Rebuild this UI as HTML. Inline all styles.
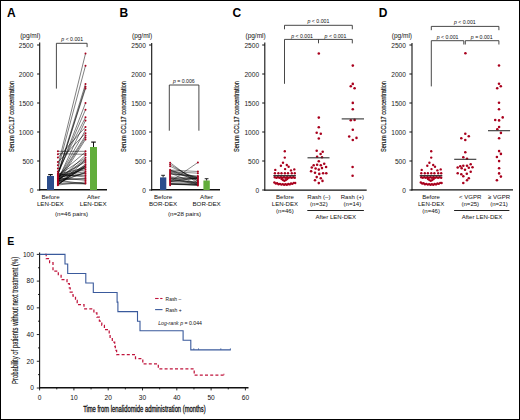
<!DOCTYPE html>
<html><head><meta charset="utf-8"><style>
html,body{margin:0;padding:0;background:#fff;}
#fig{position:relative;width:520px;height:420px;overflow:hidden;background:#fff;}
svg{position:absolute;left:0;top:0;}
text{font-family:"Liberation Sans", sans-serif;}
</style></head><body>
<div id="fig">
<svg width="520" height="420" viewBox="0 0 520 420" font-family='"Liberation Sans", sans-serif'>
<rect x="0.5" y="0.5" width="519" height="419" fill="#fff" stroke="#000" stroke-width="1"/>
<text x="7.00" y="16.90" font-size="12" text-anchor="start" font-weight="bold" fill="#000">A</text>
<line x1="39.70" y1="42.40" x2="39.70" y2="190.50" stroke="#111" stroke-width="1.1"/>
<line x1="37.10" y1="190.00" x2="39.70" y2="190.00" stroke="#111" stroke-width="1"/>
<text x="33.40" y="192.50" font-size="6.6" text-anchor="end" fill="#222">0</text>
<line x1="37.10" y1="161.00" x2="39.70" y2="161.00" stroke="#111" stroke-width="1"/>
<text x="33.40" y="163.50" font-size="6.6" text-anchor="end" fill="#222">500</text>
<line x1="37.10" y1="132.00" x2="39.70" y2="132.00" stroke="#111" stroke-width="1"/>
<text x="33.40" y="134.50" font-size="6.6" text-anchor="end" fill="#222">1000</text>
<line x1="37.10" y1="103.00" x2="39.70" y2="103.00" stroke="#111" stroke-width="1"/>
<text x="33.40" y="105.50" font-size="6.6" text-anchor="end" fill="#222">1500</text>
<line x1="37.10" y1="74.00" x2="39.70" y2="74.00" stroke="#111" stroke-width="1"/>
<text x="33.40" y="76.50" font-size="6.6" text-anchor="end" fill="#222">2000</text>
<line x1="37.10" y1="45.00" x2="39.70" y2="45.00" stroke="#111" stroke-width="1"/>
<text x="33.40" y="47.50" font-size="6.6" text-anchor="end" fill="#222">2500</text>
<text x="30.30" y="37.90" font-size="6.5" text-anchor="middle" fill="#111">(pg/ml)</text>
<text x="13.60" y="116.50" font-size="7.7" text-anchor="middle" textLength="71" lengthAdjust="spacingAndGlyphs" transform="rotate(-90 13.60 116.50)" fill="#111" stroke="#111" stroke-width="0.18">Serum CCL17 concentration</text>
<line x1="39.20" y1="189.80" x2="107.00" y2="189.80" stroke="#111" stroke-width="1.4"/>
<polyline points="56.4,88.6 56.4,43.3 87.1,43.3 87.1,47.1" fill="none" stroke="#333" stroke-width="0.9"/>
<text x="72.20" y="41.30" font-size="5.2" text-anchor="middle" fill="#111"><tspan font-style="italic">p</tspan> &lt; 0.001</text>
<rect x="47" y="176" width="7" height="14" fill="#2c4d8c"/>
<line x1="50.50" y1="174.50" x2="50.50" y2="176.00" stroke="#111" stroke-width="0.9"/>
<line x1="48.20" y1="174.60" x2="52.80" y2="174.60" stroke="#111" stroke-width="1.2"/>
<rect x="90" y="147" width="7" height="43" fill="#62ad3c"/>
<line x1="93.50" y1="142.00" x2="93.50" y2="147.00" stroke="#111" stroke-width="1.0"/>
<line x1="91.20" y1="142.10" x2="95.80" y2="142.10" stroke="#111" stroke-width="1.2"/>
<g>
<line x1="58.00" y1="151.30" x2="85.50" y2="151.30" stroke="#000" stroke-width="0.5"/>
<line x1="58.00" y1="153.70" x2="85.50" y2="154.30" stroke="#000" stroke-width="0.5"/>
<line x1="58.00" y1="165.20" x2="85.50" y2="53.60" stroke="#000" stroke-width="0.5"/>
<line x1="58.00" y1="168.60" x2="85.50" y2="65.70" stroke="#000" stroke-width="0.5"/>
<line x1="58.00" y1="173.30" x2="85.50" y2="83.90" stroke="#000" stroke-width="0.5"/>
<line x1="58.00" y1="174.42" x2="85.50" y2="86.80" stroke="#000" stroke-width="0.5"/>
<line x1="58.00" y1="173.80" x2="85.50" y2="88.60" stroke="#000" stroke-width="0.5"/>
<line x1="58.00" y1="174.38" x2="85.50" y2="103.10" stroke="#000" stroke-width="0.5"/>
<line x1="58.00" y1="173.48" x2="85.50" y2="109.70" stroke="#000" stroke-width="0.5"/>
<line x1="58.00" y1="171.50" x2="85.50" y2="117.30" stroke="#000" stroke-width="0.5"/>
<line x1="58.00" y1="179.74" x2="85.50" y2="120.40" stroke="#000" stroke-width="0.5"/>
<line x1="58.00" y1="157.60" x2="85.50" y2="127.00" stroke="#000" stroke-width="0.5"/>
<line x1="58.00" y1="178.84" x2="85.50" y2="130.10" stroke="#000" stroke-width="0.5"/>
<line x1="58.00" y1="162.00" x2="85.50" y2="133.20" stroke="#000" stroke-width="0.5"/>
<line x1="58.00" y1="179.39" x2="85.50" y2="135.60" stroke="#000" stroke-width="0.5"/>
<line x1="58.00" y1="180.63" x2="85.50" y2="137.50" stroke="#000" stroke-width="0.5"/>
<line x1="58.00" y1="182.74" x2="85.50" y2="139.40" stroke="#000" stroke-width="0.5"/>
<line x1="58.00" y1="175.14" x2="85.50" y2="151.99" stroke="#000" stroke-width="0.5"/>
<line x1="58.00" y1="180.66" x2="85.50" y2="155.20" stroke="#000" stroke-width="0.5"/>
<line x1="58.00" y1="175.17" x2="85.50" y2="157.80" stroke="#000" stroke-width="0.5"/>
<line x1="58.00" y1="179.59" x2="85.50" y2="158.98" stroke="#000" stroke-width="0.5"/>
<line x1="58.00" y1="185.26" x2="85.50" y2="160.00" stroke="#000" stroke-width="0.5"/>
<line x1="58.00" y1="180.80" x2="85.50" y2="160.18" stroke="#000" stroke-width="0.5"/>
<line x1="58.00" y1="176.98" x2="85.50" y2="162.00" stroke="#000" stroke-width="0.5"/>
<line x1="58.00" y1="184.78" x2="85.50" y2="164.20" stroke="#000" stroke-width="0.5"/>
<line x1="58.00" y1="179.34" x2="85.50" y2="165.54" stroke="#000" stroke-width="0.5"/>
<line x1="58.00" y1="184.30" x2="85.50" y2="166.00" stroke="#000" stroke-width="0.5"/>
<line x1="58.00" y1="181.55" x2="85.50" y2="166.09" stroke="#000" stroke-width="0.5"/>
<line x1="58.00" y1="184.34" x2="85.50" y2="166.31" stroke="#000" stroke-width="0.5"/>
<line x1="58.00" y1="182.50" x2="85.50" y2="167.49" stroke="#000" stroke-width="0.5"/>
<line x1="58.00" y1="174.22" x2="85.50" y2="167.80" stroke="#000" stroke-width="0.5"/>
<line x1="58.00" y1="178.68" x2="85.50" y2="168.13" stroke="#000" stroke-width="0.5"/>
<line x1="58.00" y1="175.50" x2="85.50" y2="169.80" stroke="#000" stroke-width="0.5"/>
<line x1="58.00" y1="175.56" x2="85.50" y2="171.80" stroke="#000" stroke-width="0.5"/>
<line x1="58.00" y1="182.93" x2="85.50" y2="172.13" stroke="#000" stroke-width="0.5"/>
<line x1="58.00" y1="181.08" x2="85.50" y2="172.86" stroke="#000" stroke-width="0.5"/>
<line x1="58.00" y1="176.91" x2="85.50" y2="173.50" stroke="#000" stroke-width="0.5"/>
<line x1="58.00" y1="176.06" x2="85.50" y2="175.30" stroke="#000" stroke-width="0.5"/>
<line x1="58.00" y1="174.01" x2="85.50" y2="177.00" stroke="#000" stroke-width="0.5"/>
<line x1="58.00" y1="179.96" x2="85.50" y2="178.70" stroke="#000" stroke-width="0.5"/>
<line x1="58.00" y1="178.82" x2="85.50" y2="178.80" stroke="#000" stroke-width="0.5"/>
<line x1="58.00" y1="177.90" x2="85.50" y2="180.30" stroke="#000" stroke-width="0.5"/>
<line x1="58.00" y1="184.99" x2="85.50" y2="182.00" stroke="#000" stroke-width="0.5"/>
<line x1="58.00" y1="181.58" x2="85.50" y2="183.60" stroke="#000" stroke-width="0.5"/>
<line x1="58.00" y1="180.29" x2="85.50" y2="183.86" stroke="#000" stroke-width="0.5"/>
<line x1="58.00" y1="183.42" x2="85.50" y2="183.92" stroke="#000" stroke-width="0.5"/>
</g>
<circle cx="57.90" cy="151.30" r="1.0" fill="#a9001d"/>
<circle cx="57.90" cy="154.30" r="1.0" fill="#a9001d"/>
<circle cx="57.90" cy="157.60" r="1.0" fill="#a9001d"/>
<circle cx="57.90" cy="162.00" r="1.0" fill="#a9001d"/>
<circle cx="57.90" cy="165.20" r="1.0" fill="#a9001d"/>
<circle cx="57.90" cy="168.60" r="1.0" fill="#a9001d"/>
<circle cx="57.90" cy="171.50" r="1.0" fill="#a9001d"/>
<circle cx="57.90" cy="173.30" r="1.0" fill="#a9001d"/>
<circle cx="57.90" cy="174.22" r="1.0" fill="#a9001d"/>
<circle cx="57.90" cy="175.14" r="1.0" fill="#a9001d"/>
<circle cx="57.90" cy="176.06" r="1.0" fill="#a9001d"/>
<circle cx="57.90" cy="176.98" r="1.0" fill="#a9001d"/>
<circle cx="57.90" cy="177.90" r="1.0" fill="#a9001d"/>
<circle cx="57.90" cy="178.82" r="1.0" fill="#a9001d"/>
<circle cx="57.90" cy="179.74" r="1.0" fill="#a9001d"/>
<circle cx="57.90" cy="180.66" r="1.0" fill="#a9001d"/>
<circle cx="57.90" cy="181.58" r="1.0" fill="#a9001d"/>
<circle cx="57.90" cy="182.50" r="1.0" fill="#a9001d"/>
<circle cx="57.90" cy="183.42" r="1.0" fill="#a9001d"/>
<circle cx="57.90" cy="184.34" r="1.0" fill="#a9001d"/>
<circle cx="57.90" cy="185.26" r="1.0" fill="#a9001d"/>
<circle cx="85.50" cy="53.60" r="1.0" fill="#a9001d"/>
<circle cx="85.50" cy="65.70" r="1.0" fill="#a9001d"/>
<circle cx="85.50" cy="83.90" r="1.0" fill="#a9001d"/>
<circle cx="85.50" cy="86.80" r="1.0" fill="#a9001d"/>
<circle cx="85.50" cy="88.60" r="1.0" fill="#a9001d"/>
<circle cx="85.50" cy="103.10" r="1.0" fill="#a9001d"/>
<circle cx="85.50" cy="109.70" r="1.0" fill="#a9001d"/>
<circle cx="85.50" cy="117.30" r="1.0" fill="#a9001d"/>
<circle cx="85.50" cy="120.40" r="1.0" fill="#a9001d"/>
<circle cx="85.50" cy="127.00" r="1.0" fill="#a9001d"/>
<circle cx="85.50" cy="130.10" r="1.0" fill="#a9001d"/>
<circle cx="85.50" cy="133.20" r="1.0" fill="#a9001d"/>
<circle cx="85.50" cy="135.60" r="1.0" fill="#a9001d"/>
<circle cx="85.50" cy="137.50" r="1.0" fill="#a9001d"/>
<circle cx="85.50" cy="139.40" r="1.0" fill="#a9001d"/>
<circle cx="85.50" cy="151.30" r="1.0" fill="#a9001d"/>
<circle cx="85.50" cy="153.70" r="1.0" fill="#a9001d"/>
<circle cx="85.50" cy="155.20" r="1.0" fill="#a9001d"/>
<circle cx="85.50" cy="157.80" r="1.0" fill="#a9001d"/>
<circle cx="85.50" cy="160.00" r="1.0" fill="#a9001d"/>
<circle cx="85.50" cy="162.00" r="1.0" fill="#a9001d"/>
<circle cx="85.50" cy="164.20" r="1.0" fill="#a9001d"/>
<circle cx="85.50" cy="166.00" r="1.0" fill="#a9001d"/>
<circle cx="85.50" cy="167.80" r="1.0" fill="#a9001d"/>
<circle cx="85.50" cy="169.80" r="1.0" fill="#a9001d"/>
<circle cx="85.50" cy="171.80" r="1.0" fill="#a9001d"/>
<circle cx="85.50" cy="173.50" r="1.0" fill="#a9001d"/>
<circle cx="85.50" cy="175.30" r="1.0" fill="#a9001d"/>
<circle cx="85.50" cy="177.00" r="1.0" fill="#a9001d"/>
<circle cx="85.50" cy="178.70" r="1.0" fill="#a9001d"/>
<circle cx="85.50" cy="180.30" r="1.0" fill="#a9001d"/>
<circle cx="85.50" cy="182.00" r="1.0" fill="#a9001d"/>
<circle cx="85.50" cy="183.60" r="1.0" fill="#a9001d"/>
<text x="50.50" y="198.90" font-size="6.2" text-anchor="middle" fill="#111">Before</text>
<text x="50.30" y="205.90" font-size="6.2" text-anchor="middle" fill="#111">LEN-DEX</text>
<text x="93.50" y="198.90" font-size="6.2" text-anchor="middle" fill="#111">After</text>
<text x="93.20" y="205.90" font-size="6.2" text-anchor="middle" fill="#111">LEN-DEX</text>
<text x="71.50" y="215.60" font-size="6.2" text-anchor="middle" fill="#111">(n=46 pairs)</text>
<text x="119.40" y="16.90" font-size="12" text-anchor="start" font-weight="bold" fill="#000">B</text>
<line x1="151.70" y1="43.00" x2="151.70" y2="190.50" stroke="#111" stroke-width="1.1"/>
<line x1="149.10" y1="190.00" x2="151.70" y2="190.00" stroke="#111" stroke-width="1"/>
<text x="145.90" y="192.50" font-size="6.6" text-anchor="end" fill="#222">0</text>
<line x1="149.10" y1="161.00" x2="151.70" y2="161.00" stroke="#111" stroke-width="1"/>
<text x="145.90" y="163.50" font-size="6.6" text-anchor="end" fill="#222">500</text>
<line x1="149.10" y1="132.00" x2="151.70" y2="132.00" stroke="#111" stroke-width="1"/>
<text x="145.90" y="134.50" font-size="6.6" text-anchor="end" fill="#222">1000</text>
<line x1="149.10" y1="103.00" x2="151.70" y2="103.00" stroke="#111" stroke-width="1"/>
<text x="145.90" y="105.50" font-size="6.6" text-anchor="end" fill="#222">1500</text>
<line x1="149.10" y1="74.00" x2="151.70" y2="74.00" stroke="#111" stroke-width="1"/>
<text x="145.90" y="76.50" font-size="6.6" text-anchor="end" fill="#222">2000</text>
<line x1="149.10" y1="45.00" x2="151.70" y2="45.00" stroke="#111" stroke-width="1"/>
<text x="145.90" y="47.50" font-size="6.6" text-anchor="end" fill="#222">2500</text>
<text x="142.10" y="37.90" font-size="6.5" text-anchor="middle" fill="#111">(pg/ml)</text>
<text x="125.60" y="116.50" font-size="7.7" text-anchor="middle" textLength="71" lengthAdjust="spacingAndGlyphs" transform="rotate(-90 125.60 116.50)" fill="#111" stroke="#111" stroke-width="0.18">Serum CCL17 concentration</text>
<line x1="151.20" y1="189.80" x2="220.00" y2="189.80" stroke="#111" stroke-width="1.4"/>
<polyline points="169.3,130.7 169.3,85 198.9,85 198.9,130.7" fill="none" stroke="#333" stroke-width="0.9"/>
<text x="183.80" y="83.20" font-size="5.2" text-anchor="middle" fill="#111"><tspan font-style="italic">p</tspan> = 0.006</text>
<rect x="160" y="177.4" width="6.3" height="12.6" fill="#2c4d8c"/>
<line x1="163.10" y1="175.30" x2="163.10" y2="177.40" stroke="#111" stroke-width="0.9"/>
<line x1="161.20" y1="175.30" x2="165.00" y2="175.30" stroke="#111" stroke-width="0.9"/>
<rect x="203.4" y="180.5" width="6.4" height="9.5" fill="#62ad3c"/>
<line x1="206.60" y1="178.70" x2="206.60" y2="180.50" stroke="#111" stroke-width="0.9"/>
<line x1="204.70" y1="178.70" x2="208.50" y2="178.70" stroke="#111" stroke-width="0.9"/>
<line x1="170.20" y1="162.70" x2="198.00" y2="183.50" stroke="#000" stroke-width="0.45"/>
<line x1="170.20" y1="164.50" x2="198.00" y2="181.00" stroke="#000" stroke-width="0.45"/>
<line x1="170.20" y1="166.30" x2="198.00" y2="179.30" stroke="#000" stroke-width="0.45"/>
<line x1="170.20" y1="181.60" x2="198.00" y2="162.40" stroke="#000" stroke-width="0.45"/>
<line x1="170.20" y1="170.00" x2="198.00" y2="171.50" stroke="#000" stroke-width="0.45"/>
<line x1="170.20" y1="171.60" x2="198.00" y2="173.20" stroke="#000" stroke-width="0.45"/>
<line x1="170.20" y1="174.08" x2="198.00" y2="175.92" stroke="#000" stroke-width="0.45"/>
<line x1="170.20" y1="173.57" x2="198.00" y2="177.12" stroke="#000" stroke-width="0.45"/>
<line x1="170.20" y1="170.24" x2="198.00" y2="177.23" stroke="#000" stroke-width="0.45"/>
<line x1="170.20" y1="178.58" x2="198.00" y2="177.49" stroke="#000" stroke-width="0.45"/>
<line x1="170.20" y1="171.53" x2="198.00" y2="177.87" stroke="#000" stroke-width="0.45"/>
<line x1="170.20" y1="181.12" x2="198.00" y2="177.91" stroke="#000" stroke-width="0.45"/>
<line x1="170.20" y1="179.33" x2="198.00" y2="177.97" stroke="#000" stroke-width="0.45"/>
<line x1="170.20" y1="181.15" x2="198.00" y2="178.68" stroke="#000" stroke-width="0.45"/>
<line x1="170.20" y1="176.92" x2="198.00" y2="178.77" stroke="#000" stroke-width="0.45"/>
<line x1="170.20" y1="172.24" x2="198.00" y2="179.37" stroke="#000" stroke-width="0.45"/>
<line x1="170.20" y1="170.00" x2="198.00" y2="181.08" stroke="#000" stroke-width="0.45"/>
<line x1="170.20" y1="181.97" x2="198.00" y2="181.83" stroke="#000" stroke-width="0.45"/>
<line x1="170.20" y1="181.52" x2="198.00" y2="182.41" stroke="#000" stroke-width="0.45"/>
<line x1="170.20" y1="179.73" x2="198.00" y2="182.53" stroke="#000" stroke-width="0.45"/>
<line x1="170.20" y1="183.58" x2="198.00" y2="183.55" stroke="#000" stroke-width="0.45"/>
<line x1="170.20" y1="173.12" x2="198.00" y2="184.27" stroke="#000" stroke-width="0.45"/>
<line x1="170.20" y1="176.98" x2="198.00" y2="184.28" stroke="#000" stroke-width="0.45"/>
<line x1="170.20" y1="184.22" x2="198.00" y2="184.48" stroke="#000" stroke-width="0.45"/>
<line x1="170.20" y1="183.91" x2="198.00" y2="184.93" stroke="#000" stroke-width="0.45"/>
<line x1="170.20" y1="178.12" x2="198.00" y2="185.13" stroke="#000" stroke-width="0.45"/>
<line x1="170.20" y1="183.82" x2="198.00" y2="185.18" stroke="#000" stroke-width="0.45"/>
<line x1="170.20" y1="184.23" x2="198.00" y2="185.33" stroke="#000" stroke-width="0.45"/>
<circle cx="170.10" cy="162.70" r="1.0" fill="#a9001d"/>
<circle cx="170.10" cy="164.50" r="1.0" fill="#a9001d"/>
<circle cx="170.10" cy="166.30" r="1.0" fill="#a9001d"/>
<circle cx="170.10" cy="169.80" r="1.0" fill="#a9001d"/>
<circle cx="170.10" cy="170.76" r="1.0" fill="#a9001d"/>
<circle cx="170.10" cy="171.72" r="1.0" fill="#a9001d"/>
<circle cx="170.10" cy="172.68" r="1.0" fill="#a9001d"/>
<circle cx="170.10" cy="173.64" r="1.0" fill="#a9001d"/>
<circle cx="170.10" cy="174.60" r="1.0" fill="#a9001d"/>
<circle cx="170.10" cy="175.56" r="1.0" fill="#a9001d"/>
<circle cx="170.10" cy="176.52" r="1.0" fill="#a9001d"/>
<circle cx="170.10" cy="177.48" r="1.0" fill="#a9001d"/>
<circle cx="170.10" cy="178.44" r="1.0" fill="#a9001d"/>
<circle cx="170.10" cy="179.40" r="1.0" fill="#a9001d"/>
<circle cx="170.10" cy="180.36" r="1.0" fill="#a9001d"/>
<circle cx="170.10" cy="181.32" r="1.0" fill="#a9001d"/>
<circle cx="170.10" cy="182.28" r="1.0" fill="#a9001d"/>
<circle cx="170.10" cy="183.24" r="1.0" fill="#a9001d"/>
<circle cx="170.10" cy="184.20" r="1.0" fill="#a9001d"/>
<circle cx="170.10" cy="185.16" r="1.0" fill="#a9001d"/>
<circle cx="197.90" cy="162.40" r="1.0" fill="#a9001d"/>
<circle cx="197.90" cy="171.50" r="1.0" fill="#a9001d"/>
<circle cx="197.90" cy="173.20" r="1.0" fill="#a9001d"/>
<circle cx="197.90" cy="175.90" r="1.0" fill="#a9001d"/>
<circle cx="197.90" cy="176.86" r="1.0" fill="#a9001d"/>
<circle cx="197.90" cy="177.82" r="1.0" fill="#a9001d"/>
<circle cx="197.90" cy="178.78" r="1.0" fill="#a9001d"/>
<circle cx="197.90" cy="179.74" r="1.0" fill="#a9001d"/>
<circle cx="197.90" cy="180.70" r="1.0" fill="#a9001d"/>
<circle cx="197.90" cy="181.66" r="1.0" fill="#a9001d"/>
<circle cx="197.90" cy="182.62" r="1.0" fill="#a9001d"/>
<circle cx="197.90" cy="183.58" r="1.0" fill="#a9001d"/>
<circle cx="197.90" cy="184.54" r="1.0" fill="#a9001d"/>
<circle cx="197.90" cy="185.50" r="1.0" fill="#a9001d"/>
<text x="163.10" y="198.90" font-size="6.2" text-anchor="middle" fill="#111">Before</text>
<text x="163.10" y="205.90" font-size="6.2" text-anchor="middle" fill="#111">BOR-DEX</text>
<text x="206.60" y="198.90" font-size="6.2" text-anchor="middle" fill="#111">After</text>
<text x="206.60" y="205.90" font-size="6.2" text-anchor="middle" fill="#111">BOR-DEX</text>
<text x="184.50" y="215.60" font-size="6.2" text-anchor="middle" fill="#111">(n=28 pairs)</text>
<text x="232.40" y="16.90" font-size="12" text-anchor="start" font-weight="bold" fill="#000">C</text>
<line x1="264.80" y1="42.50" x2="264.80" y2="190.50" stroke="#111" stroke-width="1.1"/>
<line x1="262.20" y1="190.00" x2="264.80" y2="190.00" stroke="#111" stroke-width="1"/>
<text x="259.10" y="192.50" font-size="6.6" text-anchor="end" fill="#222">0</text>
<line x1="262.20" y1="161.00" x2="264.80" y2="161.00" stroke="#111" stroke-width="1"/>
<text x="259.10" y="163.50" font-size="6.6" text-anchor="end" fill="#222">500</text>
<line x1="262.20" y1="132.00" x2="264.80" y2="132.00" stroke="#111" stroke-width="1"/>
<text x="259.10" y="134.50" font-size="6.6" text-anchor="end" fill="#222">1000</text>
<line x1="262.20" y1="103.00" x2="264.80" y2="103.00" stroke="#111" stroke-width="1"/>
<text x="259.10" y="105.50" font-size="6.6" text-anchor="end" fill="#222">1500</text>
<line x1="262.20" y1="74.00" x2="264.80" y2="74.00" stroke="#111" stroke-width="1"/>
<text x="259.10" y="76.50" font-size="6.6" text-anchor="end" fill="#222">2000</text>
<line x1="262.20" y1="45.00" x2="264.80" y2="45.00" stroke="#111" stroke-width="1"/>
<text x="259.10" y="47.50" font-size="6.6" text-anchor="end" fill="#222">2500</text>
<text x="255.60" y="37.90" font-size="6.5" text-anchor="middle" fill="#111">(pg/ml)</text>
<text x="239.40" y="116.50" font-size="7.7" text-anchor="middle" textLength="71" lengthAdjust="spacingAndGlyphs" transform="rotate(-90 239.40 116.50)" fill="#111" stroke="#111" stroke-width="0.18">Serum CCL17 concentration</text>
<line x1="264.30" y1="190.10" x2="366.70" y2="190.10" stroke="#111" stroke-width="1.4"/>
<polyline points="284.5,29.3 284.5,25.3 352.3,25.3 352.3,29.3" fill="none" stroke="#333" stroke-width="0.9"/>
<text x="318.40" y="23.20" font-size="5.2" text-anchor="middle" fill="#111"><tspan font-style="italic">p</tspan> &lt; 0.001</text>
<polyline points="284.5,83.8 284.5,39.4 352.3,39.4 352.3,43.4" fill="none" stroke="#333" stroke-width="0.9"/>
<line x1="318.50" y1="39.40" x2="318.50" y2="43.30" stroke="#333" stroke-width="0.9"/>
<text x="302.10" y="37.60" font-size="5.2" text-anchor="middle" fill="#111"><tspan font-style="italic">p</tspan> &lt; 0.001</text>
<text x="335.50" y="37.60" font-size="5.2" text-anchor="middle" fill="#111"><tspan font-style="italic">p</tspan> &lt; 0.001</text>
<circle cx="284.80" cy="151.20" r="1.2" fill="#a9001d"/>
<circle cx="284.80" cy="157.60" r="1.2" fill="#a9001d"/>
<circle cx="283.00" cy="162.70" r="1.2" fill="#a9001d"/>
<circle cx="280.90" cy="165.70" r="1.2" fill="#a9001d"/>
<circle cx="286.80" cy="165.00" r="1.2" fill="#a9001d"/>
<circle cx="288.60" cy="166.80" r="1.2" fill="#a9001d"/>
<circle cx="285.10" cy="169.10" r="1.2" fill="#a9001d"/>
<circle cx="275.30" cy="169.90" r="1.2" fill="#a9001d"/>
<circle cx="291.00" cy="170.40" r="1.2" fill="#a9001d"/>
<circle cx="294.30" cy="169.40" r="1.2" fill="#a9001d"/>
<circle cx="274.90" cy="173.20" r="1.2" fill="#a9001d"/>
<circle cx="278.40" cy="173.20" r="1.2" fill="#a9001d"/>
<circle cx="281.50" cy="173.20" r="1.2" fill="#a9001d"/>
<circle cx="284.90" cy="173.20" r="1.2" fill="#a9001d"/>
<circle cx="288.00" cy="173.20" r="1.2" fill="#a9001d"/>
<circle cx="291.80" cy="173.20" r="1.2" fill="#a9001d"/>
<circle cx="294.80" cy="173.20" r="1.2" fill="#a9001d"/>
<circle cx="274.80" cy="177.20" r="1.2" fill="#a9001d"/>
<circle cx="276.34" cy="177.70" r="1.2" fill="#a9001d"/>
<circle cx="277.88" cy="177.20" r="1.2" fill="#a9001d"/>
<circle cx="279.42" cy="177.70" r="1.2" fill="#a9001d"/>
<circle cx="280.95" cy="177.20" r="1.2" fill="#a9001d"/>
<circle cx="282.49" cy="177.70" r="1.2" fill="#a9001d"/>
<circle cx="284.03" cy="177.20" r="1.2" fill="#a9001d"/>
<circle cx="285.57" cy="177.70" r="1.2" fill="#a9001d"/>
<circle cx="287.11" cy="177.20" r="1.2" fill="#a9001d"/>
<circle cx="288.65" cy="177.70" r="1.2" fill="#a9001d"/>
<circle cx="290.18" cy="177.20" r="1.2" fill="#a9001d"/>
<circle cx="291.72" cy="177.70" r="1.2" fill="#a9001d"/>
<circle cx="293.26" cy="177.20" r="1.2" fill="#a9001d"/>
<circle cx="294.80" cy="177.70" r="1.2" fill="#a9001d"/>
<circle cx="281.60" cy="179.00" r="1.2" fill="#a9001d"/>
<circle cx="283.00" cy="180.10" r="1.2" fill="#a9001d"/>
<circle cx="284.40" cy="180.80" r="1.2" fill="#a9001d"/>
<circle cx="285.80" cy="180.10" r="1.2" fill="#a9001d"/>
<circle cx="287.20" cy="179.00" r="1.2" fill="#a9001d"/>
<circle cx="274.40" cy="182.47" r="1.2" fill="#a9001d"/>
<circle cx="275.79" cy="183.50" r="1.2" fill="#a9001d"/>
<circle cx="277.17" cy="183.28" r="1.2" fill="#a9001d"/>
<circle cx="278.56" cy="184.18" r="1.2" fill="#a9001d"/>
<circle cx="279.95" cy="183.83" r="1.2" fill="#a9001d"/>
<circle cx="281.33" cy="184.61" r="1.2" fill="#a9001d"/>
<circle cx="282.72" cy="184.14" r="1.2" fill="#a9001d"/>
<circle cx="284.11" cy="184.79" r="1.2" fill="#a9001d"/>
<circle cx="285.49" cy="184.19" r="1.2" fill="#a9001d"/>
<circle cx="286.88" cy="184.72" r="1.2" fill="#a9001d"/>
<circle cx="288.27" cy="183.99" r="1.2" fill="#a9001d"/>
<circle cx="289.65" cy="184.40" r="1.2" fill="#a9001d"/>
<circle cx="291.04" cy="183.54" r="1.2" fill="#a9001d"/>
<circle cx="292.43" cy="183.83" r="1.2" fill="#a9001d"/>
<circle cx="293.81" cy="182.84" r="1.2" fill="#a9001d"/>
<circle cx="295.20" cy="183.00" r="1.2" fill="#a9001d"/>
<line x1="273.30" y1="175.70" x2="295.90" y2="175.70" stroke="#222" stroke-width="1.2"/>
<circle cx="318.80" cy="53.50" r="1.28" fill="#a9001d"/>
<circle cx="318.80" cy="117.60" r="1.28" fill="#a9001d"/>
<circle cx="318.80" cy="127.20" r="1.28" fill="#a9001d"/>
<circle cx="316.70" cy="132.80" r="1.28" fill="#a9001d"/>
<circle cx="320.80" cy="133.80" r="1.28" fill="#a9001d"/>
<circle cx="318.80" cy="138.50" r="1.28" fill="#a9001d"/>
<circle cx="316.70" cy="150.70" r="1.28" fill="#a9001d"/>
<circle cx="322.70" cy="151.80" r="1.28" fill="#a9001d"/>
<circle cx="320.60" cy="154.00" r="1.28" fill="#a9001d"/>
<circle cx="317.10" cy="156.70" r="1.28" fill="#a9001d"/>
<circle cx="322.00" cy="157.20" r="1.28" fill="#a9001d"/>
<circle cx="318.80" cy="161.20" r="1.28" fill="#a9001d"/>
<circle cx="313.70" cy="165.30" r="1.28" fill="#a9001d"/>
<circle cx="317.10" cy="164.70" r="1.28" fill="#a9001d"/>
<circle cx="320.80" cy="165.30" r="1.28" fill="#a9001d"/>
<circle cx="324.20" cy="163.80" r="1.28" fill="#a9001d"/>
<circle cx="326.10" cy="167.00" r="1.28" fill="#a9001d"/>
<circle cx="311.80" cy="167.50" r="1.28" fill="#a9001d"/>
<circle cx="315.60" cy="168.50" r="1.28" fill="#a9001d"/>
<circle cx="322.00" cy="168.10" r="1.28" fill="#a9001d"/>
<circle cx="318.80" cy="169.60" r="1.28" fill="#a9001d"/>
<circle cx="311.10" cy="171.30" r="1.28" fill="#a9001d"/>
<circle cx="315.00" cy="172.80" r="1.28" fill="#a9001d"/>
<circle cx="319.30" cy="173.90" r="1.28" fill="#a9001d"/>
<circle cx="323.10" cy="173.20" r="1.28" fill="#a9001d"/>
<circle cx="326.30" cy="173.20" r="1.28" fill="#a9001d"/>
<circle cx="316.70" cy="177.10" r="1.28" fill="#a9001d"/>
<circle cx="320.80" cy="178.20" r="1.28" fill="#a9001d"/>
<circle cx="315.00" cy="180.30" r="1.28" fill="#a9001d"/>
<circle cx="322.50" cy="180.90" r="1.28" fill="#a9001d"/>
<circle cx="318.80" cy="183.10" r="1.28" fill="#a9001d"/>
<line x1="307.50" y1="157.80" x2="329.50" y2="157.80" stroke="#333" stroke-width="1.1"/>
<circle cx="352.80" cy="65.60" r="1.28" fill="#a9001d"/>
<circle cx="352.80" cy="83.90" r="1.28" fill="#a9001d"/>
<circle cx="350.80" cy="86.30" r="1.28" fill="#a9001d"/>
<circle cx="354.60" cy="88.30" r="1.28" fill="#a9001d"/>
<circle cx="352.80" cy="102.90" r="1.28" fill="#a9001d"/>
<circle cx="352.80" cy="109.30" r="1.28" fill="#a9001d"/>
<circle cx="350.80" cy="120.30" r="1.28" fill="#a9001d"/>
<circle cx="354.60" cy="119.90" r="1.28" fill="#a9001d"/>
<circle cx="352.80" cy="129.80" r="1.28" fill="#a9001d"/>
<circle cx="349.20" cy="136.50" r="1.28" fill="#a9001d"/>
<circle cx="352.80" cy="140.00" r="1.28" fill="#a9001d"/>
<circle cx="356.50" cy="137.90" r="1.28" fill="#a9001d"/>
<circle cx="352.60" cy="167.00" r="1.28" fill="#a9001d"/>
<circle cx="352.60" cy="175.70" r="1.28" fill="#a9001d"/>
<line x1="341.70" y1="118.90" x2="364.00" y2="118.90" stroke="#333" stroke-width="1.1"/>
<text x="284.90" y="198.70" font-size="6.05" text-anchor="middle" fill="#111">Before</text>
<text x="284.90" y="205.90" font-size="6.05" text-anchor="middle" fill="#111">LEN-DEX</text>
<text x="284.90" y="213.30" font-size="6.05" text-anchor="middle" fill="#111">(n=46)</text>
<text x="318.90" y="198.70" font-size="6.05" text-anchor="middle" fill="#111">Rash (–)</text>
<text x="318.90" y="205.90" font-size="6.05" text-anchor="middle" fill="#111">(n=32)</text>
<text x="352.40" y="198.70" font-size="6.05" text-anchor="middle" fill="#111">Rash (+)</text>
<text x="352.40" y="205.90" font-size="6.05" text-anchor="middle" fill="#111">(n=14)</text>
<line x1="307.30" y1="210.50" x2="363.90" y2="210.50" stroke="#222" stroke-width="1"/>
<text x="335.80" y="218.60" font-size="6.05" text-anchor="middle" fill="#111">After LEN-DEX</text>
<text x="378.80" y="16.90" font-size="12" text-anchor="start" font-weight="bold" fill="#000">D</text>
<line x1="412.00" y1="42.90" x2="412.00" y2="190.50" stroke="#111" stroke-width="1.1"/>
<line x1="409.40" y1="190.00" x2="412.00" y2="190.00" stroke="#111" stroke-width="1"/>
<text x="405.90" y="192.50" font-size="6.6" text-anchor="end" fill="#222">0</text>
<line x1="409.40" y1="161.00" x2="412.00" y2="161.00" stroke="#111" stroke-width="1"/>
<text x="405.90" y="163.50" font-size="6.6" text-anchor="end" fill="#222">500</text>
<line x1="409.40" y1="132.00" x2="412.00" y2="132.00" stroke="#111" stroke-width="1"/>
<text x="405.90" y="134.50" font-size="6.6" text-anchor="end" fill="#222">1000</text>
<line x1="409.40" y1="103.00" x2="412.00" y2="103.00" stroke="#111" stroke-width="1"/>
<text x="405.90" y="105.50" font-size="6.6" text-anchor="end" fill="#222">1500</text>
<line x1="409.40" y1="74.00" x2="412.00" y2="74.00" stroke="#111" stroke-width="1"/>
<text x="405.90" y="76.50" font-size="6.6" text-anchor="end" fill="#222">2000</text>
<line x1="409.40" y1="45.00" x2="412.00" y2="45.00" stroke="#111" stroke-width="1"/>
<text x="405.90" y="47.50" font-size="6.6" text-anchor="end" fill="#222">2500</text>
<text x="401.90" y="37.90" font-size="6.5" text-anchor="middle" fill="#111">(pg/ml)</text>
<text x="386.30" y="116.50" font-size="7.7" text-anchor="middle" textLength="71" lengthAdjust="spacingAndGlyphs" transform="rotate(-90 386.30 116.50)" fill="#111" stroke="#111" stroke-width="0.18">Serum CCL17 concentration</text>
<line x1="411.50" y1="189.90" x2="513.00" y2="189.90" stroke="#111" stroke-width="1.4"/>
<polyline points="431.3,30.2 431.3,26.4 498.9,26.4 498.9,30.2" fill="none" stroke="#333" stroke-width="0.9"/>
<text x="464.80" y="24.20" font-size="5.2" text-anchor="middle" fill="#111"><tspan font-style="italic">p</tspan> &lt; 0.001</text>
<polyline points="431.3,86.4 431.3,40.7 463.8,40.7 463.8,44.5" fill="none" stroke="#333" stroke-width="0.9"/>
<polyline points="465.3,44.5 465.3,40.7 498.9,40.7 498.9,44.5" fill="none" stroke="#333" stroke-width="0.9"/>
<text x="447.60" y="38.60" font-size="5.2" text-anchor="middle" fill="#111"><tspan font-style="italic">p</tspan> &lt; 0.001</text>
<text x="481.70" y="38.60" font-size="5.2" text-anchor="middle" fill="#111"><tspan font-style="italic">p</tspan> = 0.001</text>
<circle cx="431.20" cy="151.20" r="1.2" fill="#a9001d"/>
<circle cx="431.20" cy="157.60" r="1.2" fill="#a9001d"/>
<circle cx="429.40" cy="162.70" r="1.2" fill="#a9001d"/>
<circle cx="427.30" cy="165.70" r="1.2" fill="#a9001d"/>
<circle cx="433.20" cy="165.00" r="1.2" fill="#a9001d"/>
<circle cx="435.00" cy="166.80" r="1.2" fill="#a9001d"/>
<circle cx="431.50" cy="169.10" r="1.2" fill="#a9001d"/>
<circle cx="421.70" cy="169.90" r="1.2" fill="#a9001d"/>
<circle cx="437.40" cy="170.40" r="1.2" fill="#a9001d"/>
<circle cx="440.70" cy="169.40" r="1.2" fill="#a9001d"/>
<circle cx="421.30" cy="173.20" r="1.2" fill="#a9001d"/>
<circle cx="424.80" cy="173.20" r="1.2" fill="#a9001d"/>
<circle cx="427.90" cy="173.20" r="1.2" fill="#a9001d"/>
<circle cx="431.30" cy="173.20" r="1.2" fill="#a9001d"/>
<circle cx="434.40" cy="173.20" r="1.2" fill="#a9001d"/>
<circle cx="438.20" cy="173.20" r="1.2" fill="#a9001d"/>
<circle cx="441.20" cy="173.20" r="1.2" fill="#a9001d"/>
<circle cx="421.20" cy="177.20" r="1.2" fill="#a9001d"/>
<circle cx="422.74" cy="177.70" r="1.2" fill="#a9001d"/>
<circle cx="424.28" cy="177.20" r="1.2" fill="#a9001d"/>
<circle cx="425.82" cy="177.70" r="1.2" fill="#a9001d"/>
<circle cx="427.35" cy="177.20" r="1.2" fill="#a9001d"/>
<circle cx="428.89" cy="177.70" r="1.2" fill="#a9001d"/>
<circle cx="430.43" cy="177.20" r="1.2" fill="#a9001d"/>
<circle cx="431.97" cy="177.70" r="1.2" fill="#a9001d"/>
<circle cx="433.51" cy="177.20" r="1.2" fill="#a9001d"/>
<circle cx="435.05" cy="177.70" r="1.2" fill="#a9001d"/>
<circle cx="436.58" cy="177.20" r="1.2" fill="#a9001d"/>
<circle cx="438.12" cy="177.70" r="1.2" fill="#a9001d"/>
<circle cx="439.66" cy="177.20" r="1.2" fill="#a9001d"/>
<circle cx="441.20" cy="177.70" r="1.2" fill="#a9001d"/>
<circle cx="428.00" cy="179.00" r="1.2" fill="#a9001d"/>
<circle cx="429.40" cy="180.10" r="1.2" fill="#a9001d"/>
<circle cx="430.80" cy="180.80" r="1.2" fill="#a9001d"/>
<circle cx="432.20" cy="180.10" r="1.2" fill="#a9001d"/>
<circle cx="433.60" cy="179.00" r="1.2" fill="#a9001d"/>
<circle cx="420.80" cy="182.47" r="1.2" fill="#a9001d"/>
<circle cx="422.19" cy="183.50" r="1.2" fill="#a9001d"/>
<circle cx="423.57" cy="183.28" r="1.2" fill="#a9001d"/>
<circle cx="424.96" cy="184.18" r="1.2" fill="#a9001d"/>
<circle cx="426.35" cy="183.83" r="1.2" fill="#a9001d"/>
<circle cx="427.73" cy="184.61" r="1.2" fill="#a9001d"/>
<circle cx="429.12" cy="184.14" r="1.2" fill="#a9001d"/>
<circle cx="430.51" cy="184.79" r="1.2" fill="#a9001d"/>
<circle cx="431.89" cy="184.19" r="1.2" fill="#a9001d"/>
<circle cx="433.28" cy="184.72" r="1.2" fill="#a9001d"/>
<circle cx="434.67" cy="183.99" r="1.2" fill="#a9001d"/>
<circle cx="436.05" cy="184.40" r="1.2" fill="#a9001d"/>
<circle cx="437.44" cy="183.54" r="1.2" fill="#a9001d"/>
<circle cx="438.83" cy="183.83" r="1.2" fill="#a9001d"/>
<circle cx="440.21" cy="182.84" r="1.2" fill="#a9001d"/>
<circle cx="441.60" cy="183.00" r="1.2" fill="#a9001d"/>
<line x1="419.70" y1="175.70" x2="442.30" y2="175.70" stroke="#222" stroke-width="1.2"/>
<circle cx="465.40" cy="53.20" r="1.28" fill="#a9001d"/>
<circle cx="465.30" cy="133.80" r="1.28" fill="#a9001d"/>
<circle cx="461.30" cy="138.30" r="1.28" fill="#a9001d"/>
<circle cx="468.80" cy="136.30" r="1.28" fill="#a9001d"/>
<circle cx="465.30" cy="140.00" r="1.28" fill="#a9001d"/>
<circle cx="465.30" cy="152.20" r="1.28" fill="#a9001d"/>
<circle cx="463.30" cy="157.20" r="1.28" fill="#a9001d"/>
<circle cx="467.00" cy="158.70" r="1.28" fill="#a9001d"/>
<circle cx="470.70" cy="164.20" r="1.28" fill="#a9001d"/>
<circle cx="457.70" cy="167.50" r="1.28" fill="#a9001d"/>
<circle cx="460.30" cy="166.30" r="1.28" fill="#a9001d"/>
<circle cx="463.30" cy="165.80" r="1.28" fill="#a9001d"/>
<circle cx="467.00" cy="165.80" r="1.28" fill="#a9001d"/>
<circle cx="468.80" cy="167.80" r="1.28" fill="#a9001d"/>
<circle cx="472.50" cy="167.20" r="1.28" fill="#a9001d"/>
<circle cx="461.70" cy="168.30" r="1.28" fill="#a9001d"/>
<circle cx="465.00" cy="169.70" r="1.28" fill="#a9001d"/>
<circle cx="457.70" cy="173.30" r="1.28" fill="#a9001d"/>
<circle cx="461.30" cy="174.20" r="1.28" fill="#a9001d"/>
<circle cx="466.80" cy="173.70" r="1.28" fill="#a9001d"/>
<circle cx="470.70" cy="171.70" r="1.28" fill="#a9001d"/>
<circle cx="463.30" cy="176.20" r="1.28" fill="#a9001d"/>
<circle cx="468.80" cy="178.30" r="1.28" fill="#a9001d"/>
<circle cx="467.00" cy="180.30" r="1.28" fill="#a9001d"/>
<circle cx="463.30" cy="183.00" r="1.28" fill="#a9001d"/>
<line x1="454.20" y1="159.30" x2="476.30" y2="159.30" stroke="#333" stroke-width="1.1"/>
<circle cx="499.00" cy="65.50" r="1.28" fill="#a9001d"/>
<circle cx="499.00" cy="83.70" r="1.28" fill="#a9001d"/>
<circle cx="500.80" cy="86.30" r="1.28" fill="#a9001d"/>
<circle cx="497.20" cy="88.30" r="1.28" fill="#a9001d"/>
<circle cx="499.00" cy="102.80" r="1.28" fill="#a9001d"/>
<circle cx="499.00" cy="109.30" r="1.28" fill="#a9001d"/>
<circle cx="502.70" cy="117.40" r="1.28" fill="#a9001d"/>
<circle cx="495.20" cy="120.00" r="1.28" fill="#a9001d"/>
<circle cx="499.10" cy="120.40" r="1.28" fill="#a9001d"/>
<circle cx="499.10" cy="127.00" r="1.28" fill="#a9001d"/>
<circle cx="497.30" cy="129.30" r="1.28" fill="#a9001d"/>
<circle cx="500.90" cy="132.90" r="1.28" fill="#a9001d"/>
<circle cx="499.10" cy="138.20" r="1.28" fill="#a9001d"/>
<circle cx="499.10" cy="151.10" r="1.28" fill="#a9001d"/>
<circle cx="500.90" cy="153.90" r="1.28" fill="#a9001d"/>
<circle cx="496.90" cy="157.00" r="1.28" fill="#a9001d"/>
<circle cx="499.10" cy="161.10" r="1.28" fill="#a9001d"/>
<circle cx="499.10" cy="168.20" r="1.28" fill="#a9001d"/>
<circle cx="499.10" cy="173.40" r="1.28" fill="#a9001d"/>
<circle cx="500.90" cy="176.60" r="1.28" fill="#a9001d"/>
<circle cx="496.90" cy="180.20" r="1.28" fill="#a9001d"/>
<line x1="488.00" y1="130.70" x2="510.10" y2="130.70" stroke="#333" stroke-width="1.1"/>
<text x="431.10" y="198.70" font-size="6.05" text-anchor="middle" fill="#111">Before</text>
<text x="431.10" y="205.90" font-size="6.05" text-anchor="middle" fill="#111">LEN-DEX</text>
<text x="431.10" y="213.30" font-size="6.05" text-anchor="middle" fill="#111">(n=46)</text>
<text x="470.30" y="198.70" font-size="6.05" text-anchor="middle" fill="#111">&lt; VGPR</text>
<text x="470.30" y="205.90" font-size="6.05" text-anchor="middle" fill="#111">(n=25)</text>
<text x="499.00" y="198.70" font-size="6.05" text-anchor="middle" fill="#111">≥ VGPR</text>
<text x="499.00" y="205.90" font-size="6.05" text-anchor="middle" fill="#111">(n=21)</text>
<line x1="454.10" y1="210.50" x2="509.40" y2="210.50" stroke="#222" stroke-width="1"/>
<text x="482.00" y="218.60" font-size="6.05" text-anchor="middle" fill="#111">After LEN-DEX</text>
<text x="7.20" y="244.90" font-size="10.5" text-anchor="start" font-weight="bold" fill="#000">E</text>
<line x1="39.60" y1="252.50" x2="39.60" y2="388.60" stroke="#111" stroke-width="1.1"/>
<line x1="39.00" y1="387.80" x2="248.50" y2="387.80" stroke="#111" stroke-width="1.4"/>
<line x1="36.80" y1="388.00" x2="39.60" y2="388.00" stroke="#111" stroke-width="0.9"/>
<text x="33.90" y="390.30" font-size="6.6" text-anchor="end" fill="#111">0</text>
<line x1="38.00" y1="374.64" x2="39.60" y2="374.64" stroke="#111" stroke-width="0.9"/>
<line x1="36.80" y1="361.28" x2="39.60" y2="361.28" stroke="#111" stroke-width="0.9"/>
<text x="33.90" y="363.58" font-size="6.6" text-anchor="end" fill="#111">20</text>
<line x1="38.00" y1="347.92" x2="39.60" y2="347.92" stroke="#111" stroke-width="0.9"/>
<line x1="36.80" y1="334.56" x2="39.60" y2="334.56" stroke="#111" stroke-width="0.9"/>
<text x="33.90" y="336.86" font-size="6.6" text-anchor="end" fill="#111">40</text>
<line x1="38.00" y1="321.20" x2="39.60" y2="321.20" stroke="#111" stroke-width="0.9"/>
<line x1="36.80" y1="307.84" x2="39.60" y2="307.84" stroke="#111" stroke-width="0.9"/>
<text x="33.90" y="310.14" font-size="6.6" text-anchor="end" fill="#111">60</text>
<line x1="38.00" y1="294.48" x2="39.60" y2="294.48" stroke="#111" stroke-width="0.9"/>
<line x1="36.80" y1="281.12" x2="39.60" y2="281.12" stroke="#111" stroke-width="0.9"/>
<text x="33.90" y="283.42" font-size="6.6" text-anchor="end" fill="#111">80</text>
<line x1="38.00" y1="267.76" x2="39.60" y2="267.76" stroke="#111" stroke-width="0.9"/>
<line x1="36.80" y1="254.40" x2="39.60" y2="254.40" stroke="#111" stroke-width="0.9"/>
<text x="33.90" y="256.70" font-size="6.6" text-anchor="end" fill="#111">100</text>
<line x1="39.60" y1="388.00" x2="39.60" y2="390.40" stroke="#111" stroke-width="0.9"/>
<text x="39.60" y="400.00" font-size="6.6" text-anchor="middle" fill="#111">0</text>
<line x1="56.75" y1="388.00" x2="56.75" y2="389.40" stroke="#111" stroke-width="0.9"/>
<line x1="73.90" y1="388.00" x2="73.90" y2="390.40" stroke="#111" stroke-width="0.9"/>
<text x="73.90" y="400.00" font-size="6.6" text-anchor="middle" fill="#111">10</text>
<line x1="91.05" y1="388.00" x2="91.05" y2="389.40" stroke="#111" stroke-width="0.9"/>
<line x1="108.20" y1="388.00" x2="108.20" y2="390.40" stroke="#111" stroke-width="0.9"/>
<text x="108.20" y="400.00" font-size="6.6" text-anchor="middle" fill="#111">20</text>
<line x1="125.35" y1="388.00" x2="125.35" y2="389.40" stroke="#111" stroke-width="0.9"/>
<line x1="142.50" y1="388.00" x2="142.50" y2="390.40" stroke="#111" stroke-width="0.9"/>
<text x="142.50" y="400.00" font-size="6.6" text-anchor="middle" fill="#111">30</text>
<line x1="159.65" y1="388.00" x2="159.65" y2="389.40" stroke="#111" stroke-width="0.9"/>
<line x1="176.80" y1="388.00" x2="176.80" y2="390.40" stroke="#111" stroke-width="0.9"/>
<text x="176.80" y="400.00" font-size="6.6" text-anchor="middle" fill="#111">40</text>
<line x1="193.95" y1="388.00" x2="193.95" y2="389.40" stroke="#111" stroke-width="0.9"/>
<line x1="211.10" y1="388.00" x2="211.10" y2="390.40" stroke="#111" stroke-width="0.9"/>
<text x="211.10" y="400.00" font-size="6.6" text-anchor="middle" fill="#111">50</text>
<line x1="228.25" y1="388.00" x2="228.25" y2="389.40" stroke="#111" stroke-width="0.9"/>
<line x1="245.40" y1="388.00" x2="245.40" y2="390.40" stroke="#111" stroke-width="0.9"/>
<text x="245.40" y="400.00" font-size="6.6" text-anchor="middle" fill="#111">60</text>
<text x="144.40" y="411.60" font-size="8.2" text-anchor="middle" textLength="122.5" lengthAdjust="spacingAndGlyphs" fill="#111" stroke="#111" stroke-width="0.3">Time from lenalidomide administration (months)</text>
<text x="18.30" y="320.40" font-size="8.6" text-anchor="middle" textLength="127" lengthAdjust="spacingAndGlyphs" transform="rotate(-90 18.30 320.40)" fill="#111" stroke="#111" stroke-width="0.12">Probability of patients without next treatment (%)</text>
<polyline points="45.00,254.40 46.20,254.40 46.20,258.50 49.60,258.50 49.60,262.70 53.00,262.70 53.00,271.10 58.30,271.10 58.30,275.30 61.10,275.30 61.10,279.50 67.00,279.50 67.00,283.60 69.30,283.60 69.30,287.80 70.20,287.80 70.20,292.00 73.00,292.00 73.00,296.10 75.50,296.10 75.50,300.30 77.20,300.30 77.20,304.60 84.00,304.60 84.00,308.90 93.90,308.90 93.90,312.90 96.90,312.90 96.90,317.10 99.40,317.10 99.40,321.10 101.80,321.10 101.80,325.30 104.40,325.30 104.40,329.60 109.20,329.60 109.20,333.70 110.10,333.70 110.10,337.90 112.30,337.90 112.30,342.10 114.70,342.10 114.70,346.20 115.30,346.20 115.30,350.40 116.60,350.40 116.60,354.60 135.50,354.60 135.50,358.60 142.80,358.60 142.80,363.80 158.30,363.80 158.30,368.80 194.20,368.80 194.20,375.20 224.60,375.20" fill="none" stroke="#c0143c" stroke-width="1.25" stroke-dasharray="3 2.2"/>
<line x1="223.90" y1="375.20" x2="223.90" y2="373.70" stroke="#c0143c" stroke-width="0.8"/>
<polyline points="39.60,254.40 65.00,254.40 65.00,263.94 67.70,263.94 67.70,273.49 85.80,273.49 85.80,283.03 93.30,283.03 93.30,292.57 117.10,292.57 117.10,302.11 117.90,302.11 117.90,311.66 137.50,311.66 137.50,321.20 140.00,321.20 140.00,330.74 183.10,330.74 183.10,340.29 190.80,340.29 190.80,349.83 230.80,349.83" fill="none" stroke="#3a5a9c" stroke-width="1.1"/>
<line x1="193.80" y1="349.83" x2="193.80" y2="348.33" stroke="#3a5a9c" stroke-width="0.8"/>
<line x1="198.50" y1="349.83" x2="198.50" y2="348.33" stroke="#3a5a9c" stroke-width="0.8"/>
<line x1="220.80" y1="349.83" x2="220.80" y2="348.33" stroke="#3a5a9c" stroke-width="0.8"/>
<line x1="230.40" y1="349.83" x2="230.40" y2="348.33" stroke="#3a5a9c" stroke-width="0.8"/>
<line x1="155.10" y1="298.50" x2="158.60" y2="298.50" stroke="#c0143c" stroke-width="1.1"/>
<line x1="160.20" y1="298.50" x2="162.50" y2="298.50" stroke="#c0143c" stroke-width="1.1"/>
<text x="165.60" y="300.50" font-size="6.2" text-anchor="start" textLength="15.6" lengthAdjust="spacingAndGlyphs" fill="#111">Rash –</text>
<line x1="155.10" y1="309.60" x2="162.50" y2="309.60" stroke="#3a5a9c" stroke-width="1.1"/>
<text x="165.60" y="311.60" font-size="6.2" text-anchor="start" textLength="16.0" lengthAdjust="spacingAndGlyphs" fill="#111">Rash +</text>
<text x="158.20" y="324.80" font-size="6.2" text-anchor="start" textLength="43.8" lengthAdjust="spacingAndGlyphs" fill="#111"><tspan font-style="italic">Log-rank p</tspan> = 0.044</text>
</svg>
</div>
</body></html>
